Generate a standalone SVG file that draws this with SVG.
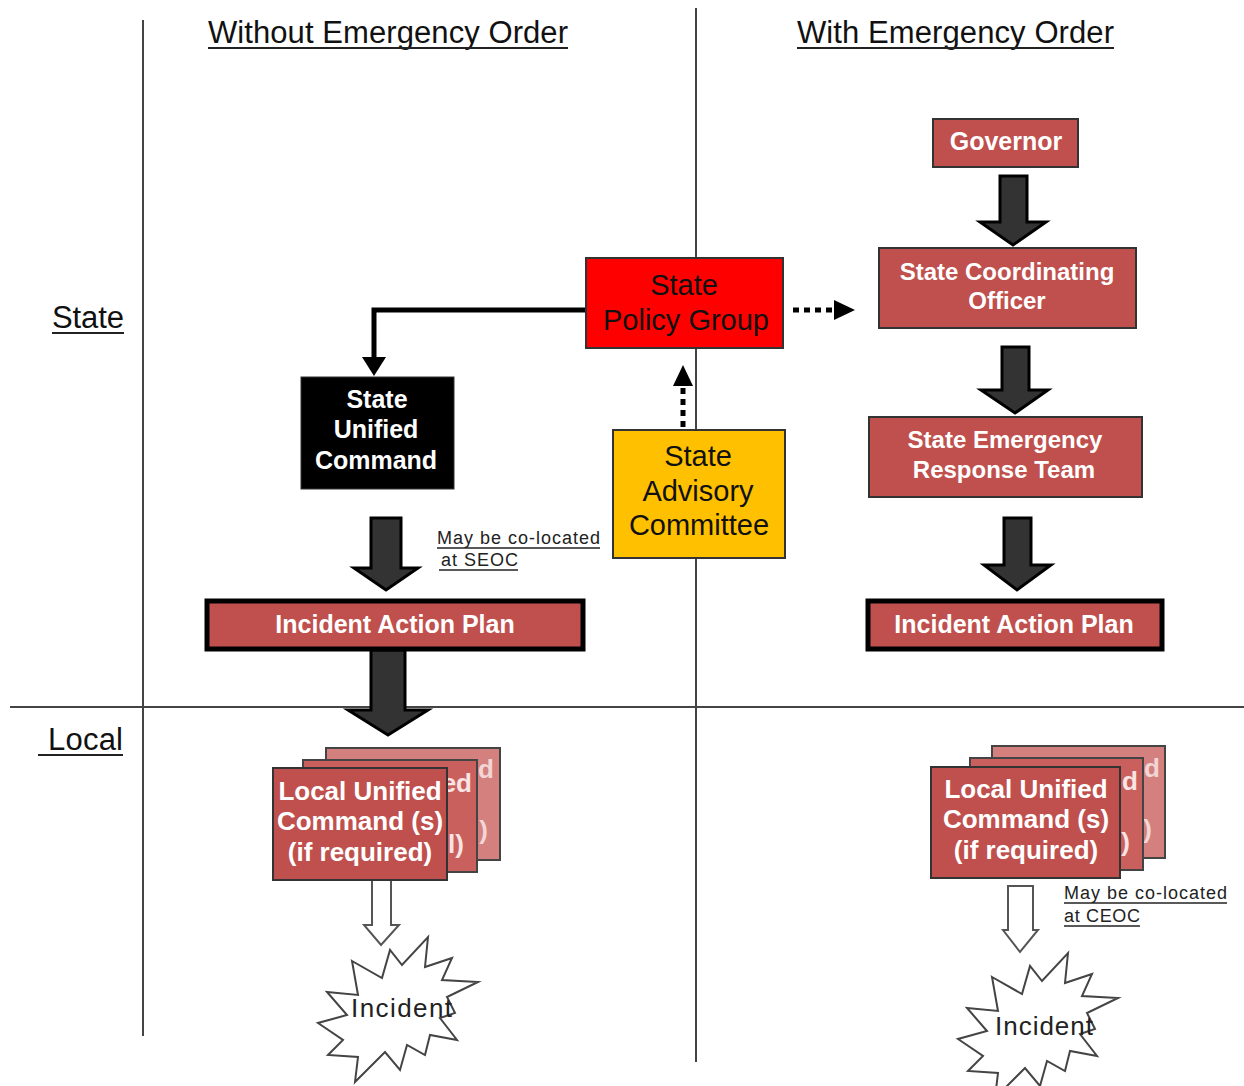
<svg xmlns="http://www.w3.org/2000/svg" width="1244" height="1086" viewBox="0 0 1244 1086">
<style>
text{font-family:"Liberation Sans",Arial,sans-serif}
.hdr{font-size:31px;fill:#111}
.wb{font-weight:bold;fill:#fff;text-anchor:middle}
.bk{fill:#111;text-anchor:middle}
.red{fill:#C0504D;stroke:#333;stroke-width:2}
.blk{fill:#333;stroke:#000;stroke-width:3}
.hol{fill:#fff;stroke:#555;stroke-width:2}
.ul{stroke:#222;stroke-width:2}
.note{font-size:18px;fill:#222}
.grid{stroke:#444;stroke-width:2}
.frag{font-weight:bold;font-size:26px;text-anchor:end}
</style>
<g id="grid">
<line class="grid" x1="143" y1="20" x2="143" y2="1036"/>
<line class="grid" x1="696" y1="8" x2="696" y2="1062"/>
<line class="grid" x1="10" y1="707" x2="1244" y2="707"/>
</g>
<g id="labels">
<text class="hdr" x="208" y="43" textLength="360">Without Emergency Order</text>
<line class="ul" x1="208" y1="48" x2="568" y2="48"/>
<text class="hdr" x="797" y="43" textLength="317">With Emergency Order</text>
<line class="ul" x1="797" y1="48" x2="1114" y2="48"/>
<text class="hdr" x="52" y="328" textLength="72">State</text>
<line class="ul" x1="52" y1="333" x2="124" y2="333"/>
<text class="hdr" x="48" y="750" textLength="75">Local</text>
<line class="ul" x1="38" y1="755" x2="123" y2="755"/>
<text class="note" x="437" y="544" textLength="163">May be co-located</text>
<line class="ul" x1="437" y1="548" x2="600" y2="548" style="stroke-width:1.5"/>
<text class="note" x="441" y="566" textLength="77">at SEOC</text>
<line class="ul" x1="439" y1="570" x2="518" y2="570" style="stroke-width:1.5"/>
<text class="note" x="1064" y="899" textLength="163">May be co-located</text>
<line class="ul" x1="1064" y1="903" x2="1227" y2="903" style="stroke-width:1.5"/>
<text class="note" x="1064" y="922" textLength="76">at CEOC</text>
<line class="ul" x1="1064" y1="926" x2="1140" y2="926" style="stroke-width:1.5"/>
</g>
<g id="connectors">
<path d="M586,310 H374 V360" fill="none" stroke="#000" stroke-width="5"/>
<polygon points="362,357 386,357 374,376" fill="#000"/>
<line x1="793" y1="310" x2="836" y2="310" stroke="#000" stroke-width="5" stroke-dasharray="6,5"/>
<polygon points="834,300 855,310 834,320" fill="#000"/>
<line x1="683" y1="427" x2="683" y2="384" stroke="#000" stroke-width="5" stroke-dasharray="6,5"/>
<polygon points="673,386 693,386 683,365" fill="#000"/>
<path class="blk" d="M371,518 H401 V568 H418 L386,590 L354,568 H371 Z"/>
<path class="blk" d="M371,650 H405 V710 H428 L388,735 L348,710 H371 Z"/>
<path class="blk" d="M1000,176 H1027 V222 H1046 L1013,245 L980,222 H1000 Z"/>
<path class="blk" d="M1002,347 H1029 V390 H1048 L1015,413 L981,390 H1002 Z"/>
<path class="blk" d="M1004,518 H1031 V565 H1051 L1017,590 L984,565 H1004 Z"/>
<path class="hol" d="M372,880 H391 V925 H399 L381,945 L364,925 H372 Z"/>
<path class="hol" d="M1008,886 H1033 V930 H1038 L1020,952 L1003,930 H1008 Z"/>
</g>
<g id="state-policy-group">
<rect x="586" y="258" width="197" height="90" fill="#FF0000" stroke="#333" stroke-width="2"/>
<text class="bk" x="684" y="295" font-size="29">State</text>
<text class="bk" x="686" y="330" font-size="29">Policy Group</text>
</g>
<g id="state-unified-command">
<rect x="301" y="377" width="153" height="112" fill="#000" stroke="#333" stroke-width="1"/>
<text class="wb" x="377" y="408" font-size="25">State</text>
<text class="wb" x="376" y="438" font-size="25">Unified</text>
<text class="wb" x="376" y="469" font-size="25">Command</text>
</g>
<g id="state-advisory-committee">
<rect x="613" y="430" width="172" height="128" fill="#FFC000" stroke="#333" stroke-width="2"/>
<text class="bk" x="698" y="466" font-size="29">State</text>
<text class="bk" x="698" y="501" font-size="29">Advisory</text>
<text class="bk" x="699" y="535" font-size="29">Committee</text>
</g>
<g id="governor">
<rect class="red" x="933" y="119" width="145" height="48"/>
<text class="wb" x="1006" y="150" font-size="25">Governor</text>
</g>
<g id="state-coordinating-officer">
<rect class="red" x="879" y="248" width="257" height="80"/>
<text class="wb" x="1007" y="280" font-size="24">State Coordinating</text>
<text class="wb" x="1007" y="309" font-size="24">Officer</text>
</g>
<g id="state-emergency-response-team">
<rect class="red" x="869" y="417" width="273" height="80"/>
<text class="wb" x="1005" y="448" font-size="24">State Emergency</text>
<text class="wb" x="1004" y="478" font-size="24">Response Team</text>
</g>
<g id="iap-left">
<rect x="207" y="601" width="376" height="48" fill="#C0504D" stroke="#000" stroke-width="5"/>
<text class="wb" x="395" y="633" font-size="25">Incident Action Plan</text>
</g>
<g id="iap-right">
<rect x="868" y="601" width="294" height="48" fill="#C0504D" stroke="#000" stroke-width="5"/>
<text class="wb" x="1014" y="633" font-size="25">Incident Action Plan</text>
</g>
<g id="local-uc-left">
<rect x="326" y="748" width="174" height="112" fill="#D4807E" stroke="#444" stroke-width="2"/>
<text class="frag" x="494" y="778" fill="#F2D6D5">d</text>
<text class="frag" x="488" y="839" fill="#F2D6D5">)</text>
<rect x="303" y="760" width="174" height="112" fill="#C9605D" stroke="#444" stroke-width="2"/>
<text class="frag" x="472" y="792" fill="#F8E4E3">ed</text>
<text class="frag" x="464" y="853" fill="#F8E4E3">l)</text>
<rect class="red" x="273" y="768" width="174" height="112"/>
<text class="wb" x="360" y="800" font-size="26">Local Unified</text>
<text class="wb" x="360" y="830" font-size="26">Command (s)</text>
<text class="wb" x="360" y="861" font-size="26">(if required)</text>
</g>
<g id="local-uc-right">
<rect x="992" y="746" width="173" height="112" fill="#D4807E" stroke="#444" stroke-width="2"/>
<text class="frag" x="1160" y="777" fill="#F2D6D5">d</text>
<text class="frag" x="1152" y="838" fill="#F2D6D5">)</text>
<rect x="970" y="758" width="173" height="112" fill="#C9605D" stroke="#444" stroke-width="2"/>
<text class="frag" x="1138" y="790" fill="#F8E4E3">d</text>
<text class="frag" x="1130" y="851" fill="#F8E4E3">)</text>
<rect class="red" x="931" y="767" width="189" height="111"/>
<text class="wb" x="1026" y="798" font-size="26">Local Unified</text>
<text class="wb" x="1026" y="828" font-size="26">Command (s)</text>
<text class="wb" x="1026" y="859" font-size="26">(if required)</text>
</g>
<defs>
<polygon id="star" points="352,961 382,978 390,950 402,965 428,937 425,967 452,958 442,980 478,982 447,997 455,1013 440,1018 457,1040 430,1035 425,1055 407,1045 400,1070 385,1052 355,1082 358,1057 328,1055 343,1040 318,1023 347,1015 327,992 358,995" fill="#fff" stroke="#444" stroke-width="2" stroke-linejoin="miter"/>
</defs>
<g id="incident-left">
<use href="#star"/>
<text x="351" y="1017" font-size="26" fill="#222" textLength="101">Incident</text>
</g>
<g id="incident-right">
<use href="#star" transform="translate(640,16)"/>
<text x="995" y="1035" font-size="26" fill="#222" textLength="98">Incident</text>
</g>
</svg>
